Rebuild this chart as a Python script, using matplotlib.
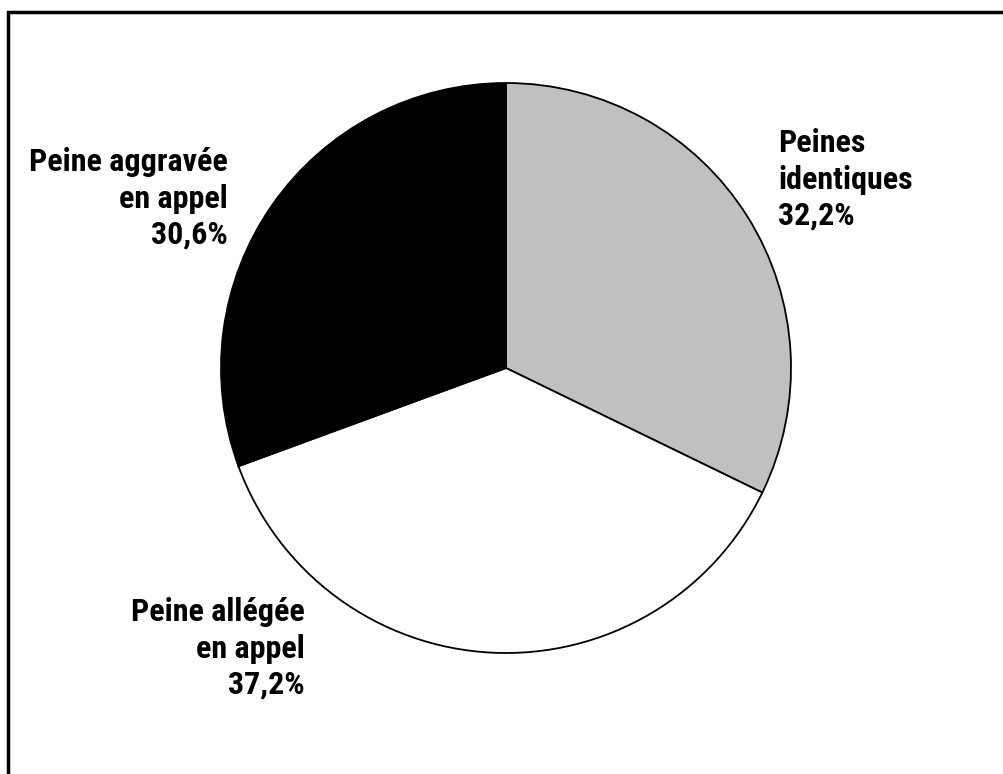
import matplotlib
matplotlib.use("Agg")
import matplotlib.pyplot as plt
from matplotlib import font_manager
from matplotlib.patches import Rectangle

# Répartition des peines en appel
labels = ["Peines\nidentiques", "Peine allégée\nen appel", "Peine aggravée\nen appel"]
shares = [32.2, 37.2, 30.6]
colors = ["#c0c0c0", "#ffffff", "#000000"]

# the original uses Arial Narrow bold: take the closest narrow font we have
names = {f.name for f in font_manager.fontManager.ttflist}
narrow = None
for cand in ["Liberation Sans Narrow", "Arial Narrow", "Roboto Condensed",
             "Open Sans Condensed", "Noto Sans Condensed"]:
    if cand in names:
        narrow = cand
        break
if narrow is None:
    for n in sorted(names):
        if ("Narrow" in n or "Condensed" in n) and "Sans" in n:
            narrow = n
            break
if narrow:
    font = dict(family=[narrow, "Liberation Sans", "DejaVu Sans"], fontsize=23,
                linespacing=1.27)
else:
    font = dict(family=["Liberation Sans", "DejaVu Sans"], fontsize=18.5,
                linespacing=1.62)

W, H = 1004, 774
fig = plt.figure(figsize=(W / 100, H / 100), dpi=100)
ax = fig.add_axes([0, 0, 1, 1])

ax.pie(shares, colors=colors, startangle=90, counterclock=False,
       center=(506, 406), radius=285, frame=True,
       wedgeprops=dict(edgecolor="black", linewidth=1.3))
ax.set_xlim(0, W)
ax.set_ylim(0, H)
ax.set_aspect("equal")
ax.axis("off")

# outer frame (cut by the image edges)
ax.add_patch(Rectangle((8, -20), W + 20, H - 12 + 20, fill=False,
                       edgecolor="black", linewidth=2.5))

pos = [(778, 549, "left"), (305, 80, "right"), (228, 530, "right")]
for (x, y, ha), lab, s in zip(pos, labels, shares):
    txt = f"{lab}\n{s:.1f}%".replace(".", ",")
    ax.text(x, y, txt, ha=ha, va="baseline", fontweight="bold", **font)

fig.savefig("out.png", dpi=100)
